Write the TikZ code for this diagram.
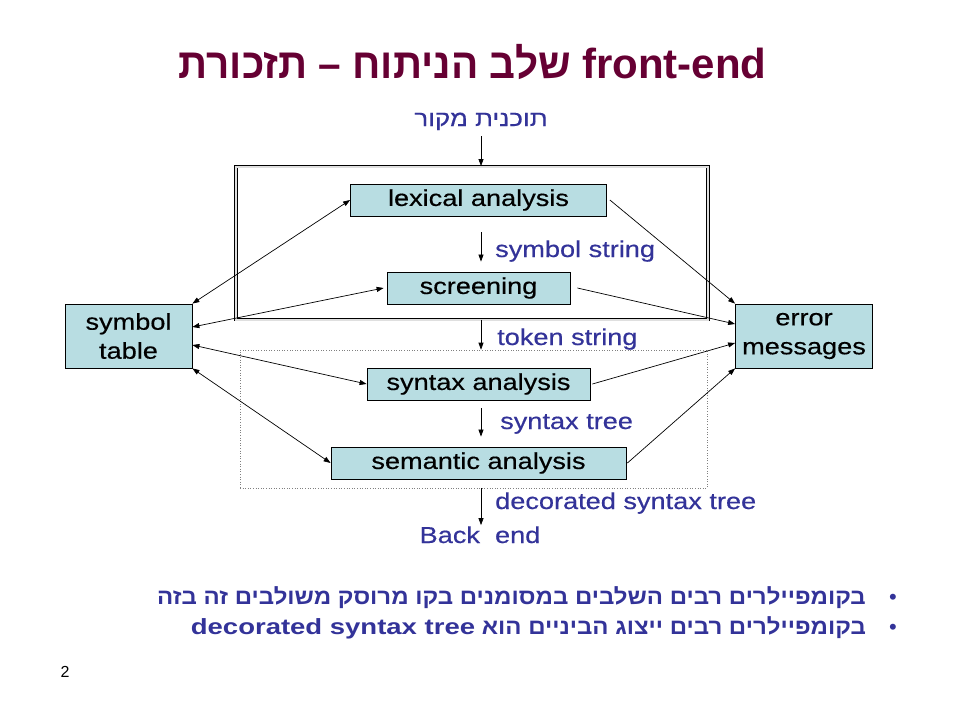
\documentclass[tikz,border=0pt]{standalone}
\usepackage{fontspec}
\setmainfont{Liberation Sans}
\newfontfamily\wide[FakeStretch=1.18,FakeBold=0.4]{Liberation Sans}
\newfontfamily\wideb[FakeStretch=1.25]{Liberation Sans}
\newfontfamily\hebw[Script=Hebrew,FakeStretch=1.18,FakeBold=0.4]{Liberation Sans}
\newfontfamily\hebb[Script=Hebrew,FakeStretch=1.09]{Liberation Sans}
\newfontfamily\hebt[Script=Hebrew,FakeStretch=0.965]{Liberation Sans}
\newfontfamily\latt{Liberation Sans}
\TeXXeTstate=1
\usetikzlibrary{arrows.meta,calc}
\definecolor{lblue}{HTML}{333399}
\definecolor{titlec}{HTML}{660033}
\definecolor{boxfill}{HTML}{B8DDE2}
\tikzset{
  stagebox/.style={draw=black, fill=boxfill, line width=0.8pt, minimum height=32pt, inner sep=0pt, font=\wide\fontsize{23}{28}\selectfont},
  sidebox/.style={draw=black, fill=boxfill, line width=0.8pt, minimum height=64pt, inner sep=0pt, align=center, font=\wide\fontsize{23}{29}\selectfont},
  lbl/.style={text=lblue, inner sep=0pt, anchor=base west, font=\wide\fontsize{23}{28}\selectfont},
  bullettext/.style={anchor=base east, inner sep=0pt, text=lblue, font=\hebb\bfseries\fontsize{22}{26}\selectfont},
  bulletdot/.style={anchor=base, inner sep=0pt, text=lblue, font=\fontsize{22}{26}\selectfont},
  arr/.style={-{Triangle[length=7pt,width=5pt]}, line width=0.7pt},
  biarr/.style={{Triangle[length=7pt,width=5pt]}-{Triangle[length=7pt,width=5pt]}, line width=0.7pt},
}
\begin{document}
\begin{tikzpicture}[x=1pt,y=-1pt]
\fill[white] (0,0) rectangle (960,720);
\path[use as bounding box] (0,0) rectangle (960,720);

% title
\node[anchor=base, inner sep=0pt, text=titlec, font=\hebt\bfseries\fontsize{42}{48}\selectfont] (title) at (472.5,78)
  {\beginR\beginL{\latt\bfseries front-end}\endL{} שלב הניתוח – תזכורת\endR};

% source
\node[anchor=base, inner sep=0pt, text=lblue, font=\hebw\fontsize{22}{26}\selectfont] (src) at (481,126)
  {\beginR תוכנית מקור\endR};

% frames
\node[draw=black, double=gray!25, double distance=2pt, line width=0.9pt, minimum width=472pt, minimum height=153pt, inner sep=0pt] (frame) at (472,243) {};
\node[draw=gray, dotted, line width=0.6pt, minimum width=467pt, minimum height=138pt, inner sep=0pt] (dbox) at (473.5,419) {};

% stages
\node[stagebox, minimum width=256pt] (lex) at (478.5,200) {lexical analysis};
\node[stagebox, minimum width=183pt] (scr) at (478.5,288) {screening};
\node[stagebox, minimum width=223pt] (syn) at (478.5,384) {syntax analysis};
\node[stagebox, minimum width=295pt] (sem) at (478.5,463) {semantic analysis};

\node[sidebox, minimum width=127pt] (sym) at (128.5,336) {symbol\\table};
\node[sidebox, minimum width=137pt] (err) at (804,336) {error\\messages};

% labels
\node[lbl] (l1) at (495,257) {symbol string};
\node[lbl] (l2) at (497,345) {token string};
\node[lbl] (l3) at (500,429) {syntax tree};
\node[lbl] (l4) at (495,509) {decorated syntax tree};
\node[anchor=base, inner sep=0pt, text=lblue, font=\wide\fontsize{23}{28}\selectfont] (back) at (480,543) {Back\ \ end};

% vertical arrows
\draw[arr] ([yshift=-6pt]src.south) -- (src.south |- frame.north);
\draw[arr, shorten <=16pt, shorten >=10pt] (lex.south -| src.south) -- (scr.north -| src.south);
\draw[arr] (frame.south -| src.south) -- (dbox.north -| src.south);
\draw[arr, shorten <=8pt, shorten >=10pt] (syn.south -| src.south) -- (sem.north -| src.south);
\draw[arr] (dbox.south -| src.south) -- ([yshift=1pt]back.north -| src.south);

% symbol table links
\draw[biarr] (lex.west) -- (sym.north east);
\draw[biarr] ([xshift=-3pt]scr.west) -- ([yshift=9pt]sym.east);
\draw[biarr] (syn.west) -- ([yshift=-9pt]sym.east);
\draw[biarr] (sem.west) -- (sym.south east);

% error links
\draw[arr] ([xshift=3pt]lex.east) -- (err.north west);
\draw[arr] ([xshift=7pt]scr.east) -- ([yshift=12pt]err.west);
\draw[arr] ([xshift=2pt]syn.east) -- ([yshift=-7pt]err.west);
\draw[arr] ([xshift=1pt]sem.east) -- (err.south west);

% bullets
\node[bullettext] (b1) at (866,604)
  {\beginR בקומפיילרים רבים השלבים במסומנים בקו מרוסק משולבים זה בזה\endR};
\node[bullettext] (b2) at (866,634)
  {\beginR בקומפיילרים רבים ייצוג הביניים הוא \beginL{\wideb\bfseries decorated syntax tree}\endL\endR};
\node[bulletdot] (d1) at (893,604) {•};
\node[bulletdot] (d2) at (893,634) {•};

% page number
\node[anchor=base, inner sep=0pt, font=\fontsize{16}{19}\selectfont] (pg) at (65,677) {2};
\end{tikzpicture}
\end{document}
